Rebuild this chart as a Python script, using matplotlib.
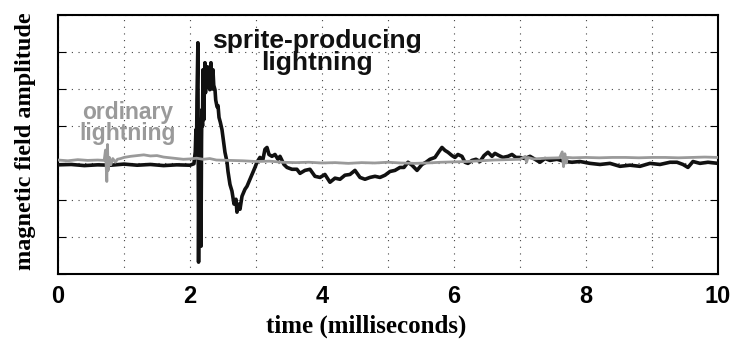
import matplotlib
matplotlib.use("Agg")
import matplotlib.pyplot as plt

# time (ms) and amplitude
sprite_t = [0.0, 0.2, 0.4, 0.6, 0.8, 1.0, 1.2, 1.4, 1.6, 1.8, 2.0, 2.06,
            2.08, 2.09, 2.1, 2.106, 2.12, 2.13, 2.14, 2.15, 2.16, 2.167, 2.175,
            2.18, 2.19, 2.197, 2.205, 2.21, 2.22, 2.227, 2.235, 2.245,
            2.258, 2.265, 2.27, 2.285, 2.30, 2.31, 2.318, 2.325, 2.333, 2.34,
            2.348, 2.36, 2.379, 2.39, 2.41, 2.425, 2.44, 2.46, 2.485,
            2.515, 2.53, 2.56, 2.576, 2.606, 2.636, 2.667, 2.697, 2.712, 2.742,
            2.758, 2.788, 2.833, 2.864, 2.909, 2.939, 2.985, 3.015, 3.06, 3.106,
            3.136, 3.167, 3.197, 3.242, 3.288, 3.333, 3.364, 3.424, 3.47, 3.545,
            3.62, 3.667, 3.742, 3.818, 3.894, 3.97, 4.045, 4.121, 4.197, 4.273,
            4.348, 4.424, 4.5, 4.576, 4.652, 4.727, 4.803, 4.879, 4.955, 5.03,
            5.106, 5.182, 5.242, 5.303, 5.364, 5.44, 5.515, 5.576, 5.636, 5.712,
            5.773, 5.818, 5.864, 5.909, 5.97, 6.015, 6.06, 6.121, 6.167, 6.212,
            6.273, 6.333, 6.394, 6.455, 6.515, 6.576, 6.621, 6.682, 6.742, 6.818,
            6.879, 6.939, 7.0, 7.076, 7.152, 7.227, 7.303, 7.379, 7.455, 7.56,
            7.682, 7.788, 7.909, 8.06, 8.212, 8.364, 8.515, 8.667, 8.818, 8.97,
            9.121, 9.273, 9.379, 9.47, 9.545, 9.621, 9.727, 9.848, 10.0]
sprite_v = [-0.05, -0.04, -0.07, -0.05, -0.06, -0.03, -0.06, -0.04, -0.07, -0.05, -0.06, -0.02,
            0.3, 0.9, 0.5, 1.71, 3.25, -2.68, 0.8, 1.17, -1.5, -2.25, 0.6,
            1.44, 1.0, 2.52, 1.6, 1.17, 2.3, 2.71, 1.9, 2.4,
            2.12, 2.6, 2.57, 2.1, 1.98, 2.5, 2.71, 2.2, 2.39, 2.0,
            2.52, 2.1, 1.98, 1.7, 1.52, 1.55, 1.23, 1.1, 0.9,
            0.5, 0.29, 0.04, -0.23, -0.58, -0.76, -1.11, -0.98, -1.33, -1.11,
            -1.25, -0.9, -0.71, -0.63, -0.44, -0.31, -0.12, 0.02, 0.15, 0.1,
            0.37, 0.42, 0.23, 0.18, 0.23, 0.1, 0.18, -0.04, -0.12, -0.17,
            -0.17, -0.28, -0.2, -0.17, -0.36, -0.39, -0.31, -0.52, -0.41, -0.44,
            -0.33, -0.31, -0.2, -0.39, -0.44, -0.39, -0.36, -0.39, -0.33, -0.23,
            -0.2, -0.12, -0.12, 0.02, -0.06, -0.2, -0.04, 0.02, 0.1, 0.15,
            0.31, 0.42, 0.34, 0.29, 0.2, 0.15, 0.23, 0.18, 0.02, -0.01,
            0.07, 0.1, 0.04, 0.2, 0.29, 0.18, 0.26, 0.2, 0.15, 0.18,
            0.23, 0.15, 0.15, 0.12, 0.18, 0.1, 0.02, 0.12, 0.07, 0.1,
            0.04, 0.02, 0.04, -0.01, -0.04, -0.01, -0.09, -0.06, -0.09, -0.01,
            -0.04, 0.02, 0.02, -0.04, -0.12, 0.04, -0.01, 0.02, -0.01]

ordinary_t = [0.0, 0.15, 0.3, 0.45, 0.6, 0.7, 0.72, 0.74, 0.75, 0.76, 0.78, 0.8,
              0.83, 0.87, 0.9, 0.95, 1.0, 1.1, 1.2, 1.3, 1.4, 1.5, 1.6, 1.7,
              1.8, 1.9, 2.0, 2.1, 2.2, 2.3, 2.4, 2.6, 2.8, 3.0, 3.2, 3.4,
              3.6, 3.8, 4.0, 4.2, 4.4, 4.6, 4.8, 5.0, 5.2, 5.4, 5.6, 5.8,
              6.0, 6.2, 6.4, 6.6, 6.8, 7.0, 7.08, 7.1, 7.12, 7.2, 7.4, 7.6,
              7.64, 7.66, 7.68, 7.7, 7.72, 7.8, 8.0, 8.2, 8.4, 8.6, 8.8, 9.0,
              9.2, 9.4, 9.6, 9.8, 10.0]
ordinary_v = [0.08, 0.06, 0.09, 0.07, 0.08, 0.07, 0.35, -0.5, 0.5, -0.2, 0.15, -0.05,
              0.12, 0.02, 0.1, 0.12, 0.15, 0.18, 0.2, 0.22, 0.19, 0.2, 0.16, 0.14,
              0.12, 0.1, 0.11, 0.13, 0.1, 0.12, 0.08, 0.07, 0.06, 0.04, 0.05, 0.02,
              0.01, 0.02, 0.0, 0.01, -0.01, 0.01, 0.0, 0.02, 0.0, -0.01, 0.0, 0.02,
              0.03, 0.04, 0.06, 0.08, 0.09, 0.1, 0.18, 0.02, 0.15, 0.11, 0.13, 0.14,
              0.3, -0.1, 0.25, 0.0, 0.15, 0.14, 0.15, 0.14, 0.15, 0.15, 0.14, 0.15,
              0.15, 0.14, 0.15, 0.16, 0.15]

x_ticks = [0, 1, 2, 3, 4, 5, 6, 7, 8, 9, 10]
x_labels = ["0", "", "2", "", "4", "", "6", "", "8", "", "10"]

fig = plt.figure(figsize=(7.33, 3.43), dpi=100)
ax = fig.add_axes([0.0791, 0.2012, 0.9004, 0.7551])

ax.plot(sprite_t, sprite_v, color="#111111", linewidth=2.6, zorder=3)
ax.plot(ordinary_t, ordinary_v, color="#9a9a9a", linewidth=2.0, zorder=4)

ax.set_xlim(0, 10)
ax.set_ylim(-3, 4)
ax.set_xticks(x_ticks)
ax.set_xticklabels(x_labels, fontsize=17, fontweight="bold", family="Liberation Sans")
ax.set_yticks(range(-3, 5))
ax.tick_params(axis="y", labelleft=False, direction="in", right=True, length=6)
ax.tick_params(axis="x", direction="in", top=True, length=0, pad=8)
ax.grid(True, color="#444444", linestyle=(0, (1, 5)), linewidth=0.8)
for s in ax.spines.values():
    s.set_linewidth(1.5)

ax.set_xlabel("time (milliseconds)", fontsize=18, fontweight="bold",
              family="Liberation Serif")
ax.xaxis.set_label_coords(0.467, -0.155)
ax.set_ylabel("magnetic field amplitude", fontsize=17.5, fontweight="bold",
              family="Liberation Serif")
ax.yaxis.set_label_coords(-0.034, 0.514)

ax.text(3.92, 3.0, "sprite-producing\nlightning", ha="center", va="center",
        fontsize=19, fontweight="bold", family="Liberation Sans",
        color="#111111", linespacing=0.9)
ax.text(1.05, 1.09, "ordinary\nlightning", ha="center", va="center",
        fontsize=16.5, fontweight="bold", family="Liberation Sans",
        color="#9a9a9a", linespacing=0.9)

fig.savefig("out.png", dpi=100)
